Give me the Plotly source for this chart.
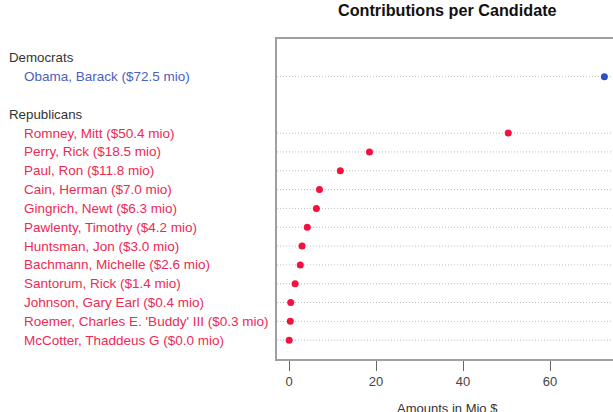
import plotly.graph_objects as go

# Contribution totals (millions of dollars) per candidate, grouped by party
dem_names = ["Obama, Barack"]
dem_values = [72.5]

rep_names = [
    "Romney, Mitt", "Perry, Rick", "Paul, Ron", "Cain, Herman",
    "Gingrich, Newt", "Pawlenty, Timothy", "Huntsman, Jon",
    "Bachmann, Michelle", "Santorum, Rick", "Johnson, Gary Earl",
    "Roemer, Charles E. 'Buddy' III", "McCotter, Thaddeus G",
]
rep_values = [50.4, 18.5, 11.8, 7.0, 6.3, 4.2, 3.0, 2.6, 1.4, 0.4, 0.3, 0.04]

x_ticks = [0, 20, 40, 60]

DEM_DOT = "#3050C0"
DEM_TXT = "#4A62BC"
REP_DOT = "#F21240"
REP_TXT = "#EC2A55"
FONT = "Liberation Sans, Arial, sans-serif"

W, H = 613, 412
L, R, T, B = 277, 0, 39, 53
PW = W - L - R
PH = H - T - B


def px_x(px):
    return (px - L) / PW


def px_y(py):
    return 1 - (py - T) / PH


# Row layout: group header, its members, then a blank spacer row
rows = []  # (kind, text, value, group)
rows.append(("head", "Democrats", None, "dem"))
for n, v in zip(dem_names, dem_values):
    rows.append(("item", f"{n} (${v:.1f} mio)", v, "dem"))
rows.append(("blank", "", None, None))
rows.append(("head", "Republicans", None, "rep"))
for n, v in zip(rep_names, rep_values):
    rows.append(("item", f"{n} (${v:.1f} mio)", v, "rep"))

fig = go.Figure()

shapes = []
annotations = []
for i, (kind, text, val, grp) in enumerate(rows):
    if kind == "head":
        annotations.append(dict(
            xref="paper", yref="y", x=px_x(7), y=i, text=text,
            showarrow=False, xanchor="left", yanchor="middle",
            font=dict(family=FONT, size=13.3, color="#333333"),
        ))
    elif kind == "item":
        shapes.append(dict(
            type="line", xref="paper", yref="y", x0=0, x1=1, y0=i, y1=i,
            line=dict(color="#BDBDBD", width=1, dash="1px,2px"), layer="below",
        ))
        annotations.append(dict(
            xref="paper", yref="y", x=px_x(22), y=i, text=text,
            showarrow=False, xanchor="left", yanchor="middle",
            font=dict(family=FONT, size=13.5,
                      color=DEM_TXT if grp == "dem" else REP_TXT),
        ))

for grp, color in (("dem", DEM_DOT), ("rep", REP_DOT)):
    ys = [i for i, r in enumerate(rows) if r[0] == "item" and r[3] == grp]
    xs = [rows[i][2] for i in ys]
    fig.add_trace(go.Scatter(
        x=xs, y=ys, mode="markers",
        marker=dict(color=color, size=7, line=dict(width=0)),
        showlegend=False, hoverinfo="x+y",
    ))

# Title and axis caption
annotations.append(dict(
    xref="paper", yref="paper", x=px_x(447), y=px_y(10),
    text="<b>Contributions per Candidate</b>", showarrow=False,
    xanchor="center", yanchor="middle",
    font=dict(family=FONT, size=16.2, color="#111111"),
))
annotations.append(dict(
    xref="paper", yref="paper", x=px_x(447), y=px_y(408),
    text="Amounts in Mio $", showarrow=False,
    xanchor="center", yanchor="middle",
    font=dict(family=FONT, size=13, color="#333333"),
))

fig.update_layout(
    width=W, height=H,
    margin=dict(l=L, r=R, t=T, b=B, pad=0),
    paper_bgcolor="white", plot_bgcolor="white",
    shapes=shapes, annotations=annotations,
    xaxis=dict(
        range=[-(289 - L) / 4.35, (W - 289) / 4.35],
        tickvals=x_ticks, ticktext=[str(t) for t in x_ticks],
        ticks="outside", ticklen=10, tickwidth=1, tickcolor="#666666",
        showline=True, linecolor="#A0A0A0", linewidth=1.5, mirror=True,
        showgrid=False, zeroline=False,
        tickfont=dict(family=FONT, size=13, color="#444444"),
    ),
    yaxis=dict(
        range=[len(rows) + 0.0, -1],
        showticklabels=False, ticks="",
        showline=True, linecolor="#A0A0A0", linewidth=1.5, mirror=False,
        showgrid=False, zeroline=False,
    ),
)

fig.write_html("out.html")
